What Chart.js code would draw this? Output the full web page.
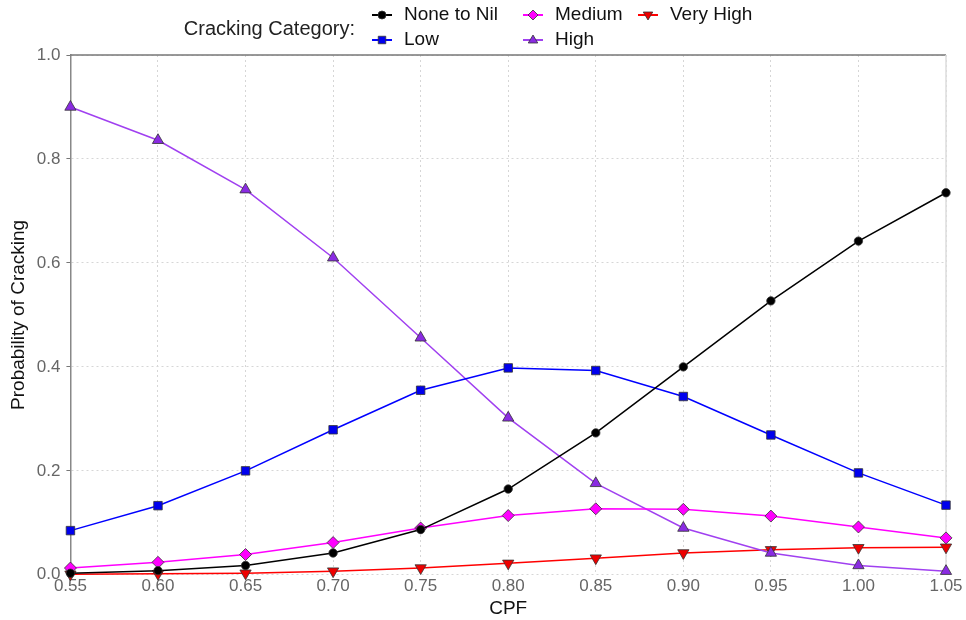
<!DOCTYPE html>
<html>
<head>
<meta charset="utf-8">
<script src="https://cdn.jsdelivr.net/npm/chart.js@4.4.1/dist/chart.umd.min.js"></script>
<style>
  html, body { margin: 0; padding: 0; background: #fff; }
  #wrap { width: 966px; height: 620px; position: relative; }
</style>
</head>
<body>
<div id="wrap"><canvas id="chart" width="966" height="620"></canvas></div>
<script>
// CPF values on the x axis
const cpf = [0.55, 0.60, 0.65, 0.70, 0.75, 0.80, 0.85, 0.90, 0.95, 1.00, 1.05];

// probability per cracking category
const noneToNil = [0.003, 0.008, 0.018, 0.042, 0.087, 0.165, 0.273, 0.400, 0.527, 0.642, 0.735];
const low       = [0.085, 0.133, 0.200, 0.279, 0.355, 0.398, 0.393, 0.343, 0.269, 0.196, 0.134];
const medium    = [0.013, 0.024, 0.039, 0.062, 0.090, 0.114, 0.127, 0.126, 0.113, 0.092, 0.071];
const high      = [0.900, 0.836, 0.741, 0.610, 0.456, 0.302, 0.176, 0.090, 0.042, 0.018, 0.007];
const veryHigh  = [0.001, 0.002, 0.003, 0.007, 0.013, 0.022, 0.032, 0.042, 0.048, 0.052, 0.053];

const categories = ['None to Nil', 'Low', 'Medium', 'High', 'Very High'];
const seriesValues = [noneToNil, low, medium, high, veryHigh];

const lineColors = ['#000000', '#0000ff', '#ff00ff', '#a040f0', '#ff0000'];
const fillColors = ['#000000', '#0000ee', '#ff00ff', '#8a2be2', '#ee0000'];
const shapes = ['circle', 'rect', 'rectRot', 'triangle', 'triangle'];
const rotations = [0, 0, 0, 0, 180];
const radii = [4.2, 6, 6, 6.5, 6.5];

const FONT = "'Liberation Sans', Arial, sans-serif";

function makePoints(vals) {
  return vals.map((v, i) => ({ x: cpf[i], y: v }));
}

const datasets = categories.map((name, i) => ({
  label: name,
  data: makePoints(seriesValues[i]),
  borderColor: lineColors[i],
  borderWidth: 1.5,
  pointStyle: shapes[i],
  pointRotation: rotations[i],
  pointRadius: radii[i],
  pointBackgroundColor: fillColors[i],
  pointBorderColor: '#333',
  pointBorderWidth: 0.8,
  tension: 0,
  fill: false,
  clip: false
}));

// legend order as laid out in the picture (3 columns, 2 rows)
const legendLayout = [
  { idx: 0, col: 0, row: 0 },
  { idx: 1, col: 0, row: 1 },
  { idx: 2, col: 1, row: 0 },
  { idx: 3, col: 1, row: 1 },
  { idx: 4, col: 2, row: 0 }
];
const legendCols = [382, 533, 648];
const legendRows = [15, 40];

function drawMarker(ctx, shape, rot, x, y, r, fill) {
  ctx.save();
  ctx.translate(x, y);
  ctx.rotate(rot * Math.PI / 180);
  ctx.beginPath();
  if (shape === 'circle') {
    ctx.arc(0, 0, r * 0.8, 0, Math.PI * 2);
  } else if (shape === 'rect') {
    ctx.rect(-r * 0.75, -r * 0.75, r * 1.5, r * 1.5);
  } else if (shape === 'rectRot') {
    ctx.moveTo(0, -r); ctx.lineTo(r, 0); ctx.lineTo(0, r); ctx.lineTo(-r, 0); ctx.closePath();
  } else {
    ctx.moveTo(0, -r); ctx.lineTo(r * 0.95, r * 0.6); ctx.lineTo(-r * 0.95, r * 0.6); ctx.closePath();
  }
  ctx.fillStyle = fill;
  ctx.fill();
  ctx.lineWidth = 0.8;
  ctx.strokeStyle = '#333';
  ctx.stroke();
  ctx.restore();
}

const framePlugin = {
  id: 'frame',
  beforeDatasetsDraw(chart) {
    const { ctx, chartArea: a } = chart;
    ctx.save();
    ctx.strokeStyle = '#777';
    ctx.lineWidth = 1.5;
    ctx.beginPath();
    ctx.moveTo(a.left, a.top);
    ctx.lineTo(a.right, a.top);
    ctx.stroke();
    ctx.strokeStyle = '#ddd';
    ctx.lineWidth = 1.5;
    ctx.beginPath();
    ctx.moveTo(a.right, a.top);
    ctx.lineTo(a.right, a.bottom);
    ctx.stroke();
    ctx.restore();
  },
  afterDraw(chart) {
    const ctx = chart.ctx;
    ctx.save();
    ctx.textBaseline = 'middle';
    ctx.fillStyle = '#222';
    ctx.textAlign = 'right';
    ctx.font = '20px ' + FONT;
    ctx.fillText('Cracking Category:', 355, 29);
    ctx.font = '19px ' + FONT;
    ctx.textAlign = 'left';
    legendLayout.forEach(item => {
      const x = legendCols[item.col];
      const y = legendRows[item.row];
      ctx.strokeStyle = lineColors[item.idx];
      ctx.lineWidth = 2;
      ctx.beginPath();
      ctx.moveTo(x - 10, y);
      ctx.lineTo(x + 10, y);
      ctx.stroke();
      drawMarker(ctx, shapes[item.idx], rotations[item.idx], x, y, 5, fillColors[item.idx]);
      ctx.fillStyle = '#111';
      ctx.fillText(categories[item.idx], x + 22, y);
    });
    ctx.restore();
  }
};

new Chart(document.getElementById('chart'), {
  type: 'line',
  data: { datasets: datasets },
  options: {
    responsive: false,
    animation: false,
    layout: { padding: { top: 55, right: 20, left: 4, bottom: 0 } },
    plugins: {
      legend: { display: false },
      tooltip: { enabled: false }
    },
    scales: {
      x: {
        type: 'linear',
        min: 0.55,
        max: 1.05,
        ticks: {
          stepSize: 0.05,
          color: '#666',
          font: { family: FONT, size: 17 },
          padding: 1,
          callback: v => v.toFixed(2)
        },
        grid: { color: '#d6d6d6', lineWidth: 1, tickLength: 0, drawTicks: false },
        border: { display: false, dash: [2, 3] },
        title: {
          display: true,
          text: 'CPF',
          color: '#111',
          font: { family: FONT, size: 19 },
          padding: { top: 0, bottom: 0 }
        }
      },
      y: {
        min: 0,
        max: 1,
        ticks: {
          stepSize: 0.2,
          color: '#666',
          font: { family: FONT, size: 17 },
          padding: 6,
          callback: v => v.toFixed(1)
        },
        grid: { color: '#d6d6d6', lineWidth: 1, tickLength: 4, tickColor: '#777', tickBorderDash: [] },
        border: { display: true, color: '#888', width: 1.5, dash: [2, 3] },
        title: {
          display: true,
          text: 'Probability of Cracking',
          color: '#111',
          font: { family: FONT, size: 19 },
          padding: { top: 3, bottom: 1 }
        }
      }
    }
  },
  plugins: [framePlugin]
});
</script>
</body>
</html>
